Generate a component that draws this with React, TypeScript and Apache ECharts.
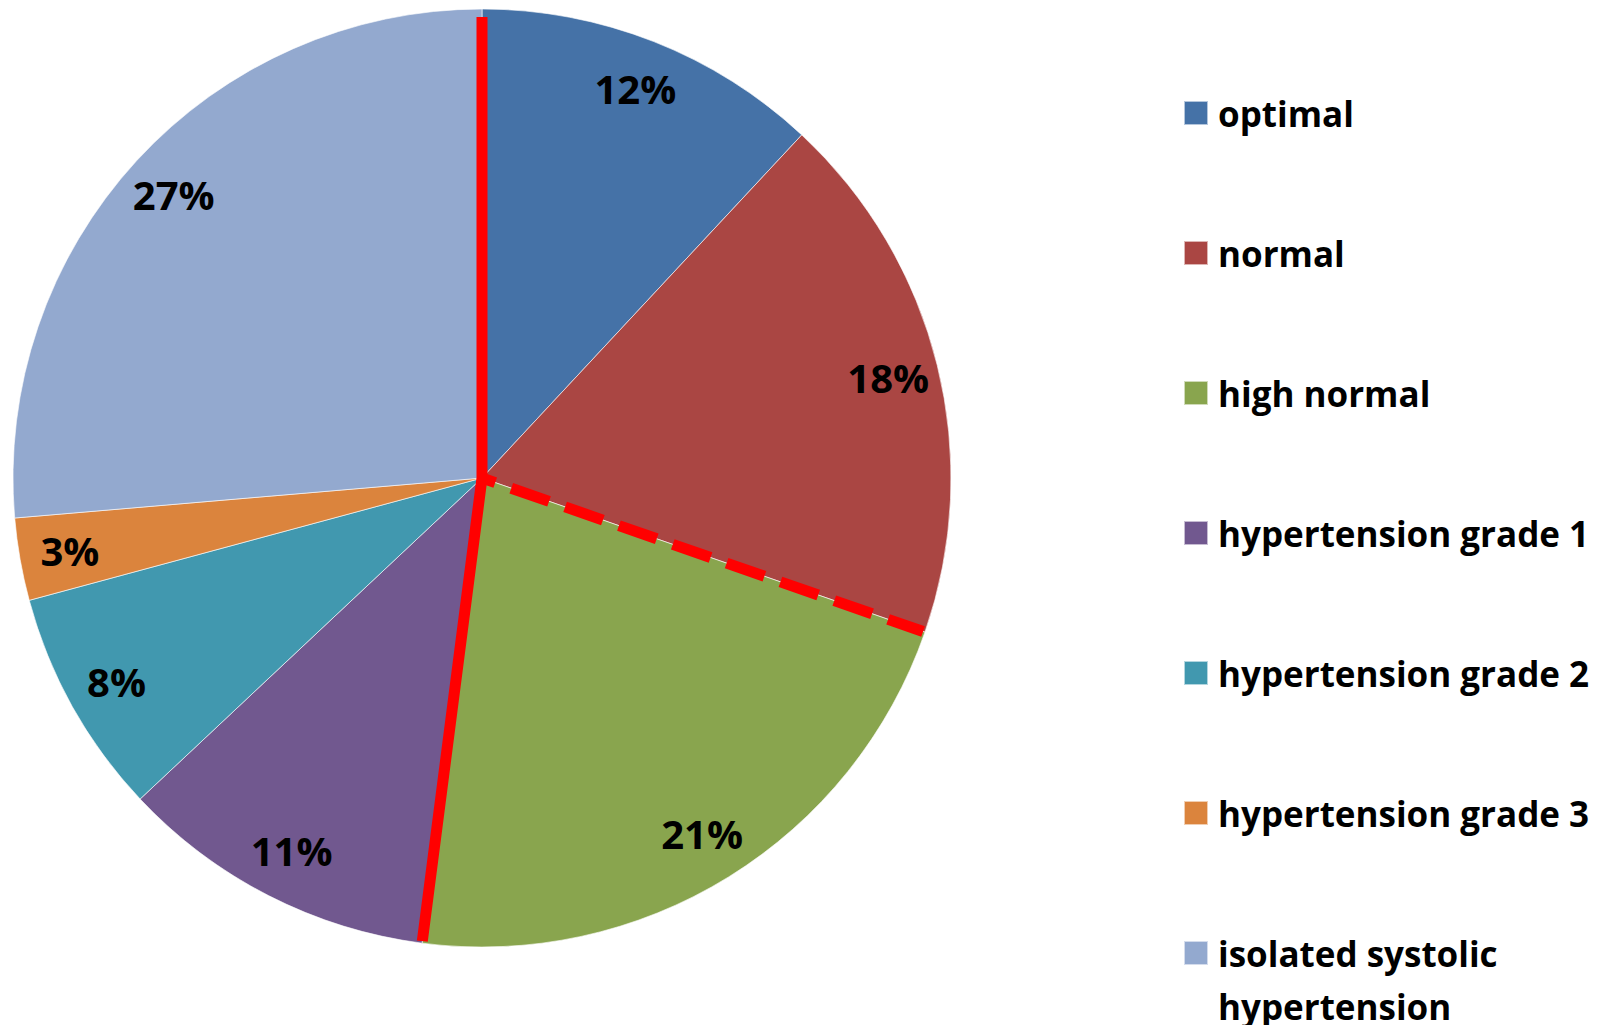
import React, { useEffect, useRef } from "react";
import * as echarts from "echarts";

const categories = [
  "optimal",
  "normal",
  "high normal",
  "hypertension grade 1",
  "hypertension grade 2",
  "hypertension grade 3",
  "isolated systolic hypertension",
];
const shares = [11.94, 18.39, 21.71, 10.96, 7.8, 2.84, 26.36];
const percentLabels = ["12%", "18%", "21%", "11%", "8%", "3%", "27%"];
const colors = ["#4572A7", "#AA4643", "#89A54E", "#71588F", "#4198AF", "#DB843D", "#93A9CF"];

export default function App() {
  const ref = useRef<HTMLDivElement>(null);
  useEffect(() => {
    document.body.style.margin = "0";
    document.body.style.overflow = "hidden";
    const chart = echarts.init(ref.current!, null, { renderer: "svg" });
    const cx = 482;
    const cy = 478;
    const R = 469;
    const total = shares.reduce((a, b) => a + b, 0);
    const cum = (n: number) => shares.slice(0, n).reduce((a, b) => a + b, 0) / total;
    const pt = (frac: number, r: number) => {
      const th = frac * 2 * Math.PI;
      return [cx + r * Math.sin(th), cy - r * Math.cos(th)];
    };
    const font = "'Open Sans', 'DejaVu Sans', sans-serif";
    const data = categories.map((name, i) => ({ name, value: shares[i], itemStyle: { color: colors[i] } }));
    const labelData = categories.map((name, i) => ({ name, value: shares[i] }));
    const mainNames = categories.slice(0, 6);
    const lastName = categories[6];
    chart.setOption({
      animation: false,
      legend: [
        {
          data: mainNames,
          orient: "vertical",
          left: 1183,
          top: 95,
          padding: 0,
          itemWidth: 24,
          itemHeight: 24,
          itemGap: 104,
          icon: "rect",
          selectedMode: false,
          textStyle: {
            fontFamily: font,
            fontWeight: "bold",
            fontSize: 35,
            color: "#000",
            lineHeight: 36,
            padding: [0, 0, 0, 5],
          },
        },
        {
          data: [lastName],
          orient: "vertical",
          left: 1183,
          top: 873.5,
          padding: 0,
          itemWidth: 24,
          itemHeight: 24,
          icon: "rect",
          selectedMode: false,
          formatter: () => " \nisolated systolic\nhypertension",
          textStyle: {
            fontFamily: font,
            fontWeight: "bold",
            fontSize: 35,
            color: "#000",
            lineHeight: 53,
            padding: [0, 0, 0, 5],
          },
        },
      ],
      series: [
        {
          type: "pie",
          center: [cx, cy],
          radius: R,
          startAngle: 90,
          clockwise: true,
          silent: true,
          label: { show: false },
          labelLine: { show: false },
          itemStyle: { borderColor: "rgba(255,255,255,0.6)", borderWidth: 1 },
          emphasis: { disabled: true },
          data,
        },
        {
          type: "pie",
          center: [cx, cy],
          radius: [362, R],
          startAngle: 90,
          clockwise: true,
          silent: true,
          itemStyle: { color: "rgba(0,0,0,0)" },
          emphasis: { disabled: true },
          label: {
            show: true,
            position: "inside",
            fontFamily: font,
            fontWeight: "bold",
            fontSize: 40,
            color: "#000",
            formatter: (p: any) => percentLabels[p.dataIndex],
          },
          labelLine: { show: false },
          data: labelData,
        },
      ],
      graphic: [
        {
          type: "polyline",
          z: 100,
          shape: { points: [[cx, cy - R + 8], [cx, cy], pt(cum(3), R - 2)] },
          style: { stroke: "#FF0000", lineWidth: 11, fill: "none", lineJoin: "miter" },
        },
        {
          type: "line",
          z: 100,
          shape: { x1: cx, y1: cy, x2: pt(cum(2), R - 2)[0], y2: pt(cum(2), R - 2)[1] },
          style: { stroke: "#FF0000", lineWidth: 11, lineDash: [40, 17], lineDashOffset: 26 },
        },
      ],
    });
    return () => chart.dispose();
  }, []);
  return <div ref={ref} style={{ width: 1607, height: 1025 }} />;
}
